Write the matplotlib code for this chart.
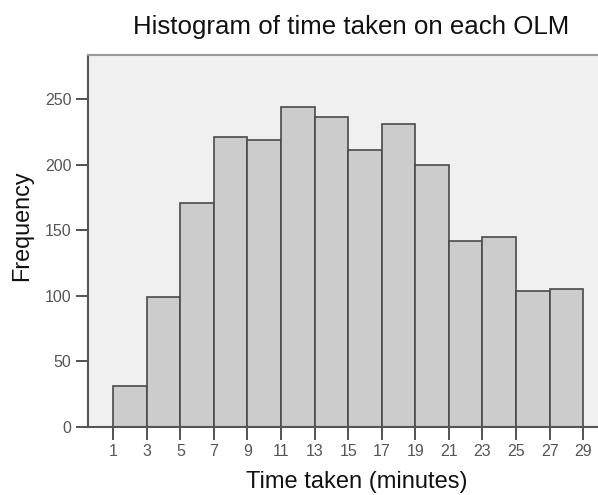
import matplotlib
matplotlib.use("Agg")
import matplotlib.pyplot as plt

# histogram bins (minutes) and counts
bin_edges = [1, 3, 5, 7, 9, 11, 13, 15, 17, 19, 21, 23, 25, 27, 29]
counts = [31, 99, 171, 221, 219, 244, 236, 211, 231, 200, 142, 145, 104, 105]
x_ticks = list(range(1, 30, 2))
y_ticks = [0, 50, 100, 150, 200, 250]

plt.rcParams['font.family'] = ['Liberation Sans', 'DejaVu Sans']

W, H = 598, 495
fig = plt.figure(figsize=(W / 100, H / 100), dpi=100)
ax = fig.add_axes([88 / W, 1 - 427 / H, 512 / W, 372 / H])
ax.set_facecolor('#f0f0f0')

lefts = bin_edges[:-1]
widths = [b - a for a, b in zip(bin_edges[:-1], bin_edges[1:])]
ax.bar(lefts, counts, width=widths, align='edge', color='#cccccc',
       edgecolor='#4a4a4a', linewidth=1.2, zorder=2)

ax.set_xlim(-0.5, 30)
ax.set_ylim(0, 283.5)
ax.set_xticks(x_ticks)
ax.set_yticks(y_ticks)
ax.tick_params(axis='both', direction='out', length=9, width=1.3,
               color='#444444', labelcolor='#555555', labelsize=11.5, pad=3)

for side in ['left', 'bottom', 'top']:
    ax.spines[side].set_color('#555555')
    ax.spines[side].set_linewidth(1.5)
ax.spines['top'].set_color('#999999')
ax.spines['right'].set_visible(False)

fig.text(351 / W, 1 - 34 / H, 'Histogram of time taken on each OLM',
         ha='center', va='baseline', fontsize=18.6, color='#111111')
fig.text(357 / W, 1 - 488 / H, 'Time taken (minutes)',
         ha='center', va='baseline', fontsize=17, color='#111111')
fig.text(22 / W, 1 - 226 / H, 'Frequency', rotation=90,
         ha='center', va='center', fontsize=16.8, color='#111111')

fig.savefig('out.png', dpi=100)
